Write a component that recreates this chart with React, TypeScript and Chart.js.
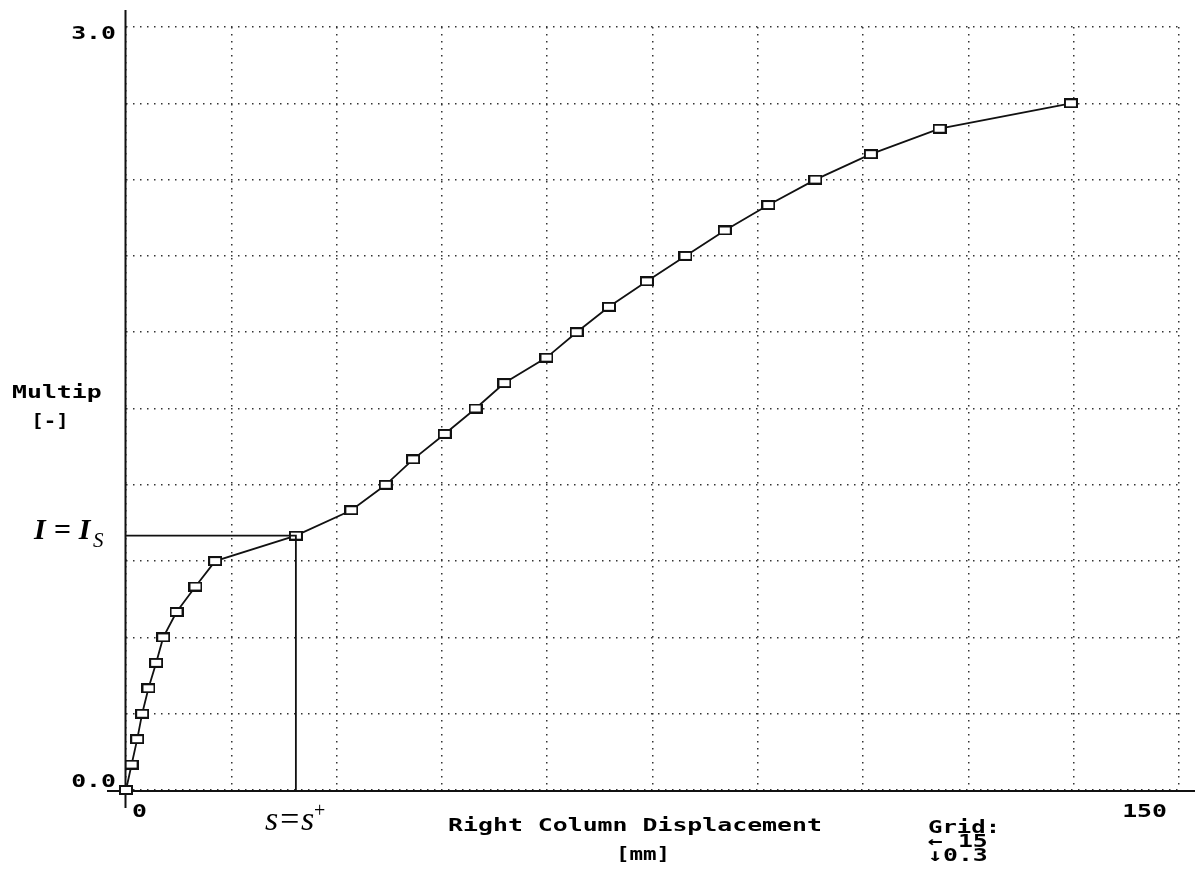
import { useEffect, useRef } from "react";
import { Chart, registerables } from "chart.js";

Chart.register(...registerables);

// ---- data ----
const displacement = [
  0, 0.8, 1.6, 2.3, 3.2, 4.3, 5.3, 7.2, 9.9, 12.7, 24.2, 32.1, 37.0, 40.9, 45.4,
  49.8, 53.9, 59.9, 64.2, 68.8, 74.2, 79.7, 85.3, 91.5, 98.2, 106.1, 115.9, 134.6,
];
const multiplier = [
  0, 0.1, 0.2, 0.3, 0.4, 0.5, 0.6, 0.7, 0.8, 0.9, 1.0, 1.1, 1.2, 1.3, 1.4, 1.5,
  1.6, 1.7, 1.8, 1.9, 2.0, 2.1, 2.2, 2.3, 2.4, 2.5, 2.6, 2.7,
];
// guide lines to the point (s+, l_s)
const guideDisplacement = [0, 24.2, 24.2];
const guideMultiplier = [1.0, 1.0, 0];

const xRange = [0, 150];
const yRange = [0, 3];
const xGridStep = 15;
const yGridStep = 0.3;
const xTickValues = [0, 150];
const xTickLabels = ["0", "150"];
const yTickValues = [0, 3];
const yTickLabels = ["0.0", "3.0"];

const xTitle = "Right Column Displacement";
const xUnit = "[mm]";
const yTitle = "Multip";
const yUnit = "[-]";
const gridNote = ["Grid:", "← 15", "↓0.3"];
const guideYLabel = ["I=I", "S"];
const guideXLabel = ["s=s", "+"];

const MONO = '"DejaVu Sans Mono", monospace';
const SERIF = '"Liberation Serif", "DejaVu Serif", serif';

function drawText(
  ctx: CanvasRenderingContext2D,
  s: string,
  x: number,
  y: number,
  align: "left" | "right" | "center",
  font: string,
  spacing: number,
  baseline: CanvasTextBaseline = "middle",
  scaleX = 1
) {
  ctx.save();
  ctx.font = font;
  (ctx as any).letterSpacing = spacing + "px";
  ctx.textBaseline = baseline;
  ctx.textAlign = "left";
  ctx.fillStyle = "#000";
  const w = (ctx.measureText(s).width - spacing) * scaleX;
  const sx = align === "left" ? x : align === "right" ? x - w : x - w / 2;
  ctx.translate(sx, y);
  ctx.scale(scaleX, 1);
  ctx.fillText(s, 0, 0);
  ctx.restore();
}

const decorPlugin = {
  id: "decor",
  beforeDatasetsDraw(chart: any) {
    const { ctx, chartArea } = chart;
    const { left, bottom, top, right } = chartArea;
    ctx.save();
    ctx.strokeStyle = "#111";
    ctx.lineWidth = 2;
    // y axis line
    ctx.beginPath();
    ctx.moveTo(left - 0.5, top - 17);
    ctx.lineTo(left - 0.5, bottom + 18);
    ctx.stroke();
    // x axis line
    ctx.beginPath();
    ctx.moveTo(left - 19, bottom + 1);
    ctx.lineTo(right + 16, bottom + 1);
    ctx.stroke();
    ctx.restore();
  },
  afterDraw(chart: any) {
    const { ctx, chartArea, scales } = chart;
    const { left, bottom, top } = chartArea;
    const xs = scales.x;
    const ys = scales.y;
    const bold = `bold 18px ${MONO}`;
    const k = 1.38;

    // y tick labels
    yTickValues.forEach((v, i) => {
      const p = ys.getPixelForValue(v);
      const y = Math.min(Math.max(p, top + 7), bottom - 8);
      drawText(ctx, yTickLabels[i], left - 10, y, "right", bold, 0, "middle", k);
    });
    // x tick labels
    xTickValues.forEach((v, i) => {
      const p = xs.getPixelForValue(v);
      if (i === 0) drawText(ctx, xTickLabels[i], p + 6, bottom + 22, "left", bold, 0, "middle", k);
      else drawText(ctx, xTickLabels[i], p - 12, bottom + 22, "right", bold, 0, "middle", k);
    });

    // axis titles
    drawText(ctx, yTitle, 12, 393, "left", bold, 0, "middle", k);
    drawText(ctx, yUnit, 50, 422, "center", bold, 0, "middle", 1.15);
    drawText(ctx, xTitle, 635, bottom + 36, "center", bold, 0, "middle", k);
    drawText(ctx, xUnit, 643, bottom + 65, "center", bold, 0, "middle", 1.25);

    // grid note
    drawText(ctx, gridNote[0], 928, bottom + 38, "left", bold, 0, "middle", 1.33);
    drawText(ctx, gridNote[1], 928, bottom + 52, "left", bold, 0, "middle", 1.38);
    drawText(ctx, gridNote[2], 928, bottom + 66, "left", bold, 0, "middle", 1.38);

    // guide labels
    const gy = ys.getPixelForValue(guideMultiplier[0]);
    const gx = xs.getPixelForValue(guideDisplacement[1]);
    drawText(ctx, guideYLabel[0], 34, gy + 3, "left", `italic bold 30px ${SERIF}`, 8, "alphabetic");
    drawText(ctx, guideYLabel[1], 93, gy + 11, "left", `italic 21px ${SERIF}`, 0, "alphabetic");
    drawText(ctx, guideXLabel[0], gx - 31, bottom + 40, "left", `italic 34px ${SERIF}`, 0, "alphabetic");
    drawText(ctx, guideXLabel[1], gx + 18, bottom + 22, "left", `20px ${SERIF}`, 0);
  },
};

function makeMarker(): HTMLCanvasElement {
  const c = document.createElement("canvas");
  c.width = 14;
  c.height = 10;
  const g = c.getContext("2d")!;
  g.fillStyle = "#fff";
  g.fillRect(0, 0, 14, 10);
  g.strokeStyle = "#111";
  g.lineWidth = 2;
  g.strokeRect(1, 1, 12, 8);
  return c;
}

export default function App() {
  const ref = useRef<HTMLCanvasElement | null>(null);

  useEffect(() => {
    if (!ref.current) return;
    const marker = makeMarker();
    const chart = new Chart(ref.current, {
      type: "line",
      data: {
        datasets: [
          {
            data: guideDisplacement.map((x, i) => ({ x, y: guideMultiplier[i] })),
            borderColor: "#111",
            borderWidth: 1.8,
            pointRadius: 0,
            fill: false,
            tension: 0,
            clip: false as any,
          },
          {
            data: displacement.map((x, i) => ({ x, y: multiplier[i] })),
            borderColor: "#111",
            borderWidth: 1.8,
            pointStyle: marker as any,
            pointRadius: 6,
            pointHoverRadius: 6,
            fill: false,
            tension: 0,
            clip: false as any,
          },
        ],
      },
      options: {
        responsive: false,
        animation: false,
        events: [],
        layout: { padding: { left: 126, right: 19, top: 27, bottom: 79 } },
        plugins: {
          legend: { display: false },
          tooltip: { enabled: false },
          title: { display: false },
        },
        scales: {
          x: {
            type: "linear",
            min: xRange[0],
            max: xRange[1],
            ticks: { display: false, stepSize: xGridStep },
            grid: { color: "#333", lineWidth: 1.5, drawTicks: false },
            border: { display: false, dash: [1.5, 5.5] },
            afterFit: (s: any) => {
              s.height = 0;
            },
          },
          y: {
            type: "linear",
            min: yRange[0],
            max: yRange[1],
            ticks: { display: false, stepSize: yGridStep },
            grid: { color: "#333", lineWidth: 1.5, drawTicks: false },
            border: { display: false, dash: [1.5, 5.5] },
            afterFit: (s: any) => {
              s.width = 0;
            },
          },
        },
      },
      plugins: [decorPlugin],
    });
    return () => chart.destroy();
  }, []);

  return (
    <div style={{ position: "absolute", left: 0, top: 0, width: 1198, height: 869, background: "#fff" }}>
      <canvas ref={ref} width={1198} height={869} />
    </div>
  );
}
